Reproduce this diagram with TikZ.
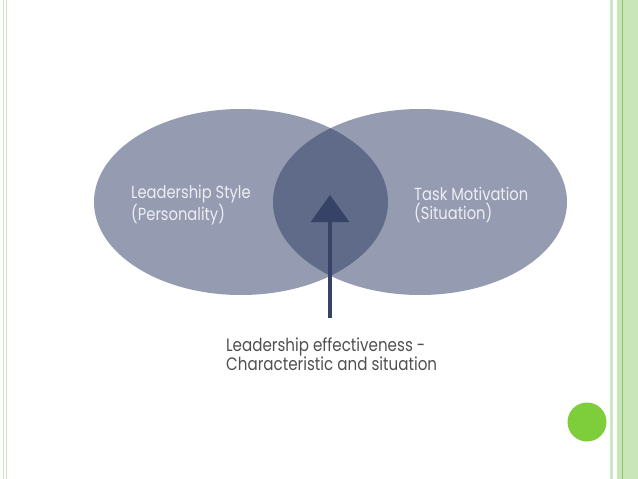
\documentclass[tikz,border=0pt]{standalone}
\usepackage{fontspec}
\usetikzlibrary{arrows.meta,shapes.geometric}
\newfontfamily\cg[FakeStretch=0.84]{Poppins}
\definecolor{ellfill}{HTML}{959BB0}
\definecolor{ovl}{HTML}{5F6B88}
\definecolor{arrowc}{HTML}{364366}
\definecolor{lighttxt}{HTML}{EEEFF4}
\definecolor{graytxt}{HTML}{505050}
\definecolor{gline}{HTML}{CDE8C0}
\definecolor{gband}{HTML}{C8E6B8}
\definecolor{gdark}{HTML}{88C866}
\definecolor{gdot}{HTML}{7DCE3A}
\tikzset{
  ell/.style={ellipse, fill=ellfill, minimum width=294pt, minimum height=186pt, inner sep=0pt},
  intxt/.style={font=\cg\fontsize{17.5}{19}\selectfont, text=lighttxt, align=left, anchor=west, inner sep=0pt},
  bottxt/.style={font=\cg\fontsize{18}{19}\selectfont, text=graytxt, align=left, anchor=north west, inner sep=0pt}
}
\begin{document}
\begin{tikzpicture}[x=1pt,y=-1pt]
\useasboundingbox (0,0) rectangle (638,479);
\fill[white] (0,0) rectangle (638,479);
% borders
\draw[gline, line width=1.5pt] (3.5,0) -- (3.5,479);
\draw[gline, line width=1.5pt] (6.5,0) -- (6.5,479);
\draw[gline, line width=2.5pt] (611.5,0) -- (611.5,479);
\fill[gband] (617,0) rectangle (638,479);
\draw[gdark, line width=0.7pt] (622.5,0) -- (622.5,479);
% ellipses
\node[ell] (L) at (241,202) {};
\node[ell] (R) at (420,202) {};
\begin{scope}
  \clip (241,202) ellipse [x radius=147, y radius=93];
  \fill[ovl] (420,202) ellipse [x radius=147, y radius=93];
\end{scope}
% texts
\node[intxt] (lt) at (131,205) {Leadership Style\\(Personality)};
\node[intxt] (rt) at (414,205) {Task Motivation\\(Situation)};
% arrow
\coordinate (base) at (330,318);
\coordinate (tip) at (330,195);
\draw[arrowc, line width=3.5pt, -{Triangle[length=27pt,width=38pt]}] (base) -- (tip);
% bottom text
\node[bottxt] (bt) at (226,338) {Leadership effectiveness -\\Characteristic and situation};
% green dot
\node[circle, fill=gdot, minimum size=39pt, inner sep=0pt] (dot) at (587,422) {};
\end{tikzpicture}
\end{document}
